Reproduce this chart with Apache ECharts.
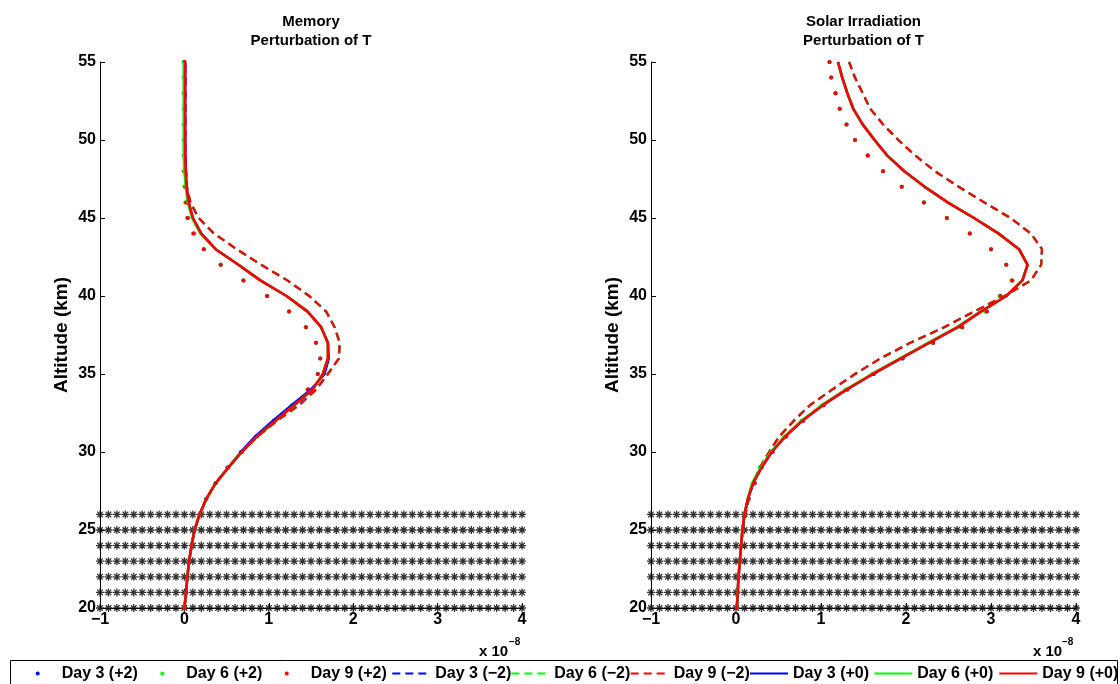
<!DOCTYPE html>
<html>
<head>
<meta charset="utf-8">
<script src="https://cdn.jsdelivr.net/npm/echarts@6/dist/echarts.min.js"></script>
<style>html,body{margin:0;padding:0;background:#fff;}#c{width:1120px;height:684px;}</style>
</head>
<body>
<div id="c"></div>
<script>
// ---------- data (values in units of 1e-8) ----------
const altitudes = [20,21,22,23,24,25,26,27,28,29,30,31,32,33,34,35,36,37,38,39,40,41,42,43,44,45,46,47,48,49,50,51,52,53,54,55];
const xTicks = [-1,0,1,2,3,4];
const xTickLabels = ['\u22121','0','1','2','3','4'];
const yTicks = [20,25,30,35,40,45,50,55];
const yTickLabels = ['20','25','30','35','40','45','50','55'];
const seriesNames = ['Day 3 (+2)','Day 6 (+2)','Day 9 (+2)','Day 3 (\u22122)','Day 6 (\u22122)','Day 9 (\u22122)','Day 3 (+0)','Day 6 (+0)','Day 9 (+0)'];
const starX = [-1,-0.9,-0.8,-0.7,-0.6,-0.5,-0.4,-0.3,-0.2,-0.1,0,0.1,0.2,0.3,0.4,0.5,0.6,0.7,0.8,0.9,1,1.1,1.2,1.3,1.4,1.5,1.6,1.7,1.8,1.9,2,2.1,2.2,2.3,2.4,2.5,2.6,2.7,2.8,2.9,3,3.1,3.2,3.3,3.4,3.5,3.6,3.7,3.8,3.9,4];
const starAlt = [20,21,22,23,24,25,26];

// Memory panel
const memDay3P2 = [0.00,0.02,0.035,0.055,0.085,0.12,0.18,0.26,0.37,0.51,0.67,0.85,1.06,1.28,1.47,1.58,1.61,1.56,1.44,1.24,0.98,0.70,0.43,0.23,0.11,0.04,0.02,0.01,0,0,0,0,0,0,0,0];
const memDay6P2 = [0.00,0.02,0.035,0.055,0.085,0.12,0.18,0.26,0.37,0.52,0.68,0.86,1.07,1.28,1.46,1.58,1.61,1.56,1.44,1.24,0.98,0.70,0.43,0.23,0.10,0.03,0.01,0.0,-0.01,-0.01,-0.01,-0.01,-0.01,-0.01,-0.01,-0.01];
const memDay9P2 = [0.00,0.02,0.035,0.055,0.085,0.12,0.18,0.26,0.37,0.52,0.68,0.86,1.07,1.28,1.46,1.58,1.61,1.56,1.44,1.24,0.98,0.70,0.43,0.23,0.11,0.04,0.02,0.01,0,0,0,0,0,0,0,0];
const memDay3M2 = [0.00,0.02,0.035,0.055,0.085,0.12,0.18,0.26,0.37,0.52,0.68,0.87,1.09,1.35,1.56,1.70,1.83,1.84,1.78,1.68,1.48,1.22,0.91,0.62,0.35,0.17,0.07,0.03,0.02,0.01,0.01,0.01,0.01,0.01,0.01,0.01];
const memDay6M2 = [0.00,0.02,0.035,0.055,0.085,0.12,0.18,0.26,0.37,0.52,0.68,0.87,1.10,1.36,1.56,1.70,1.83,1.84,1.78,1.68,1.48,1.22,0.91,0.62,0.35,0.17,0.07,0.03,0.02,0.01,0.01,0.01,0.01,0.01,0.01,0.01];
const memDay9M2 = [0.00,0.02,0.035,0.055,0.085,0.12,0.18,0.26,0.37,0.52,0.68,0.87,1.10,1.36,1.56,1.70,1.83,1.84,1.78,1.68,1.48,1.22,0.91,0.62,0.35,0.17,0.07,0.03,0.02,0.01,0.01,0.01,0.01,0.01,0.01,0.01];
const memDay3P0 = [0.00,0.02,0.035,0.055,0.085,0.12,0.18,0.26,0.37,0.52,0.67,0.84,1.05,1.27,1.50,1.66,1.71,1.70,1.62,1.46,1.21,0.90,0.64,0.37,0.20,0.10,0.05,0.025,0.015,0.01,0.008,0.008,0.008,0.008,0.008,0.008];
const memDay6P0 = [0.00,0.02,0.035,0.055,0.085,0.12,0.18,0.26,0.37,0.52,0.68,0.86,1.08,1.30,1.52,1.64,1.70,1.70,1.62,1.46,1.21,0.90,0.64,0.37,0.19,0.09,0.04,0.015,0.0,-0.008,-0.008,-0.008,-0.008,-0.008,-0.008,-0.008];
const memDay9P0 = [0.00,0.02,0.035,0.055,0.085,0.12,0.18,0.26,0.37,0.52,0.68,0.86,1.08,1.30,1.52,1.64,1.70,1.70,1.62,1.46,1.21,0.90,0.64,0.37,0.20,0.10,0.05,0.025,0.015,0.01,0.008,0.008,0.008,0.008,0.008,0.008];

// Solar irradiation panel
const solDay3P2 = [0.01,0.02,0.03,0.045,0.06,0.08,0.11,0.15,0.22,0.30,0.43,0.59,0.79,1.03,1.31,1.62,1.96,2.32,2.66,2.95,3.11,3.25,3.18,3.00,2.75,2.48,2.21,1.95,1.73,1.55,1.40,1.30,1.22,1.17,1.12,1.10];
const solDay6P2 = [0.01,0.02,0.03,0.045,0.06,0.08,0.11,0.15,0.20,0.28,0.41,0.57,0.77,1.01,1.29,1.60,1.94,2.30,2.64,2.93,3.10,3.24,3.18,3.00,2.75,2.48,2.21,1.95,1.73,1.55,1.40,1.30,1.22,1.17,1.12,1.10];
const solDay9P2 = [0.01,0.02,0.03,0.045,0.06,0.08,0.11,0.15,0.22,0.30,0.43,0.59,0.79,1.03,1.31,1.62,1.96,2.32,2.66,2.95,3.11,3.25,3.18,3.00,2.75,2.48,2.21,1.95,1.73,1.55,1.40,1.30,1.22,1.17,1.12,1.10];
const solDay3M2 = [0.01,0.02,0.03,0.045,0.06,0.08,0.11,0.15,0.20,0.28,0.39,0.51,0.68,0.87,1.13,1.40,1.70,2.05,2.45,2.80,3.16,3.47,3.59,3.60,3.47,3.23,2.92,2.62,2.34,2.11,1.91,1.73,1.58,1.49,1.40,1.33];
const solDay6M2 = [0.01,0.02,0.03,0.045,0.06,0.08,0.11,0.15,0.20,0.28,0.39,0.51,0.68,0.87,1.13,1.40,1.70,2.05,2.45,2.80,3.16,3.47,3.59,3.60,3.47,3.23,2.92,2.62,2.34,2.11,1.91,1.73,1.58,1.49,1.40,1.33];
const solDay9M2 = [0.01,0.02,0.03,0.045,0.06,0.08,0.11,0.15,0.20,0.28,0.39,0.51,0.68,0.87,1.13,1.40,1.70,2.05,2.45,2.80,3.16,3.47,3.59,3.60,3.47,3.23,2.92,2.62,2.34,2.11,1.91,1.73,1.58,1.49,1.40,1.33];
const solDay3P0 = [0.01,0.02,0.03,0.045,0.06,0.075,0.10,0.14,0.20,0.30,0.42,0.58,0.78,1.02,1.30,1.61,1.94,2.27,2.61,2.88,3.18,3.37,3.43,3.33,3.09,2.80,2.49,2.22,1.98,1.78,1.63,1.49,1.38,1.31,1.25,1.20];
const solDay6P0 = [0.01,0.02,0.03,0.045,0.06,0.075,0.10,0.14,0.19,0.29,0.41,0.57,0.77,1.01,1.29,1.60,1.93,2.26,2.60,2.88,3.18,3.37,3.43,3.33,3.09,2.80,2.49,2.22,1.98,1.78,1.63,1.49,1.38,1.31,1.25,1.20];
const solDay9P0 = [0.01,0.02,0.03,0.045,0.06,0.075,0.10,0.14,0.20,0.30,0.42,0.58,0.78,1.02,1.30,1.61,1.94,2.27,2.61,2.88,3.18,3.37,3.43,3.33,3.09,2.80,2.49,2.22,1.98,1.78,1.63,1.49,1.38,1.31,1.25,1.20];

// ---------- build ----------
const FONT = 'Liberation Sans, Arial, Helvetica, sans-serif';
const colors = ['#0000ff','#00ff00','#ff0000'];
const memArrays = [memDay3P2,memDay6P2,memDay9P2,memDay3M2,memDay6M2,memDay9M2,memDay3P0,memDay6P0,memDay9P0];
const solArrays = [solDay3P2,solDay6P2,solDay9P2,solDay3M2,solDay6M2,solDay9M2,solDay3P0,solDay6P0,solDay9P0];

const starData = [];
starAlt.forEach(a => starX.forEach(x => starData.push([x, a])));

function pairs(arr){ return arr.map((v,i)=>[v, altitudes[i]]); }

function panelSeries(arrs, idx){
  const out = [{
    type:'scatter', name:'stars', xAxisIndex:idx, yAxisIndex:idx, silent:true,
    symbol:'path://M0,5L10,5M5,0L5,10M1.5,1.5L8.5,8.5M8.5,1.5L1.5,8.5',
    symbolSize:8, data:starData, z:1,
    itemStyle:{color:'rgba(0,0,0,0)', borderColor:'#000', borderWidth:1.3}
  }];
  arrs.forEach((arr,k)=>{
    const col = colors[k%3];
    const kind = Math.floor(k/3); // 0 dots, 1 dashed, 2 solid
    const s = {type:'line', name:seriesNames[k], xAxisIndex:idx, yAxisIndex:idx, data:pairs(arr),
      color:col, silent:true, z:2+k, animation:false};
    if(kind===0){
      s.symbol='circle'; s.symbolSize=4; s.showSymbol=true; s.showAllSymbol=true;
      s.itemStyle={color:col, borderWidth:0};
      s.lineStyle={width:0, opacity:0};
    } else if(kind===1){
      s.symbol='none'; s.showSymbol=false;
      s.lineStyle={color:col, width:2.2, type:[8,5]};
    } else {
      s.symbol='none'; s.showSymbol=false;
      s.lineStyle={color:col, width:2.6, type:'solid'};
    }
    out.push(s);
  });
  return out;
}

function xAxisCfg(idx){
  return {type:'value', gridIndex:idx, min:-1, max:4, interval:1,
    axisLine:{show:true, onZero:false, lineStyle:{color:'#000', width:1}},
    axisTick:{show:true, inside:true, length:5, lineStyle:{color:'#000'}},
    splitLine:{show:false},
    axisLabel:{color:'#000', fontFamily:FONT, fontWeight:'bold', fontSize:16, margin:4,
      formatter:v=>xTickLabels[xTicks.indexOf(v)]}
  };
}
function yAxisCfg(idx){
  return {type:'value', gridIndex:idx, min:20, max:55, interval:5,
    name:'Altitude (km)', nameLocation:'middle', nameRotate:90, nameGap:29,
    nameTextStyle:{color:'#000', fontFamily:FONT, fontWeight:'bold', fontSize:19},
    axisLine:{show:true, onZero:false, lineStyle:{color:'#000', width:1}},
    axisTick:{show:true, inside:true, length:5, lineStyle:{color:'#000'}},
    splitLine:{show:false},
    axisLabel:{color:'#000', fontFamily:FONT, fontWeight:'bold', fontSize:16, margin:4,
      formatter:v=>yTickLabels[yTicks.indexOf(v)]}
  };
}

const legendLeft = [18.7,143.3,267.7,391.3,510.3,629.7,749,873.3,998.3];
const legends = seriesNames.map((n,k)=>({
  left:legendLeft[k], top:665, padding:0, itemWidth:38, itemHeight:5, itemGap:0,
  selectedMode:false, orient:'horizontal',
  textStyle:{color:'#000', fontFamily:FONT, fontWeight:'bold', fontSize:16, lineHeight:17},
  data:[ k<3 ? {name:n} : {name:n, itemStyle:{opacity:0}} ]
}));

function txt(x,y,text,size,align){
  return {type:'text', x:x, y:y, silent:true, z:100,
    style:{text:text, fill:'#000', font:'bold '+size+'px '+FONT, textAlign:align||'left', textVerticalAlign:'top', lineHeight:19}};
}

const option = {
  animation:false,
  backgroundColor:'#fff',
  grid:[
    {left:100, top:62, width:422, height:546, containLabel:false},
    {left:651, top:62, width:425, height:546, containLabel:false}
  ],
  xAxis:[xAxisCfg(0), xAxisCfg(1)],
  yAxis:[yAxisCfg(0), yAxisCfg(1)],
  legend:legends,
  graphic:[
    {type:'rect', shape:{x:10.5, y:660.5, width:1107, height:40}, style:{fill:'#fff', stroke:'#000', lineWidth:1}, z:-1, silent:true},
    txt(311,12,'Memory\nPerturbation of T',15,'center'),
    txt(863.5,12,'Solar Irradiation\nPerturbation of T',15,'center'),
    txt(479,642,'x 10',15),
    txt(509,633,'\u22128',10),
    txt(1033,642,'x 10',15),
    txt(1062,633,'\u22128',10)
  ],
  series:[].concat(panelSeries(memArrays,0), panelSeries(solArrays,1))
};

const chart = echarts.init(document.getElementById('c'), null, {renderer:'canvas'});
chart.setOption(option);
</script>
</body>
</html>
